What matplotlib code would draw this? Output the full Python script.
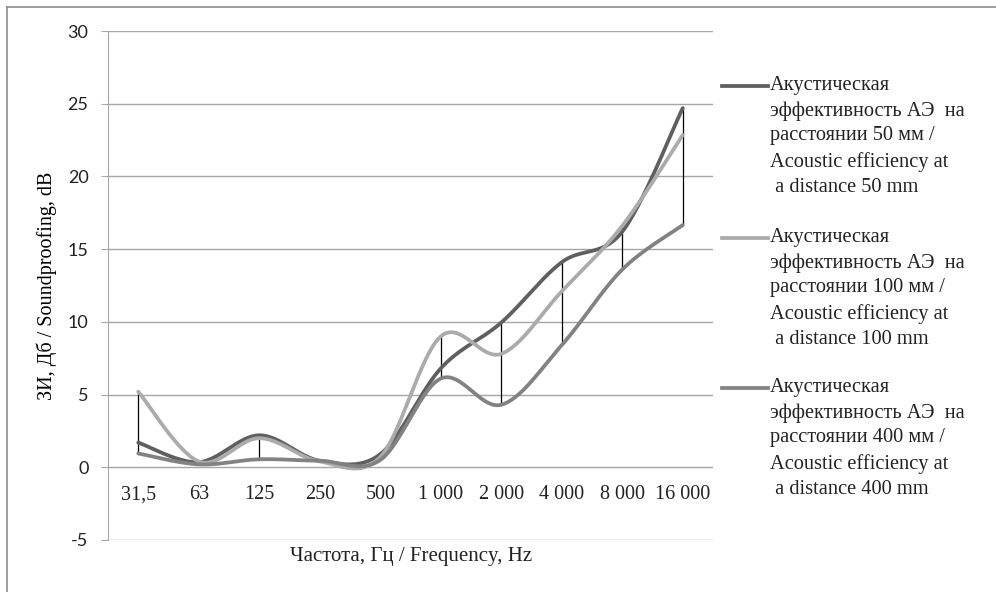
import numpy as np
import matplotlib
matplotlib.use('Agg')
from matplotlib import pyplot as plt
from matplotlib.lines import Line2D

plt.rcParams['axes.unicode_minus'] = False

categories = ['31,5', '63', '125', '250', '500', '1 000', '2 000', '4 000', '8 000', '16 000']

ae_50mm = [1.7, 0.35, 2.2, 0.45, 0.9, 6.8, 9.95, 14.1, 16.2, 24.7]
ae_100mm = [5.2, 0.4, 2.0, 0.4, 0.7, 9.0, 7.8, 12.1, 16.6, 22.85]
ae_400mm = [0.95, 0.2, 0.55, 0.45, 0.5, 6.1, 4.3, 8.4, 13.6, 16.65]

legend_labels = [
    'Акустическая\nэффективность АЭ  на\nрасстоянии 50 мм /\nAcoustic efficiency at\n a distance 50 mm',
    'Акустическая\nэффективность АЭ  на\nрасстоянии 100 мм /\nAcoustic efficiency at\n a distance 100 mm',
    'Акустическая\nэффективность АЭ  на\nрасстоянии 400 мм /\nAcoustic efficiency at\n a distance 400 mm',
]
colors = ['#5f5f5f', '#ababab', '#828282']

serif = 'Liberation Serif'
sans = 'Lato'


def smooth(y, n=30):
    # excel-like smoothed line (catmull-rom bezier)
    y = np.asarray(y, dtype=float)
    x = np.arange(len(y), dtype=float)
    p = np.column_stack([x, y])
    pts = []
    for i in range(len(p) - 1):
        p0 = p[max(i - 1, 0)]
        p1 = p[i]
        p2 = p[i + 1]
        p3 = p[min(i + 2, len(p) - 1)]
        c1 = p1 + (p2 - p0) / 6
        c2 = p2 - (p3 - p1) / 6
        t = np.linspace(0, 1, n)[:, None]
        seg = (1 - t) ** 3 * p1 + 3 * (1 - t) ** 2 * t * c1 + 3 * (1 - t) * t ** 2 * c2 + t ** 3 * p2
        pts.append(seg if i == 0 else seg[1:])
    pts = np.vstack(pts)
    return pts[:, 0], pts[:, 1]


fig = plt.figure(figsize=(9.96, 5.92), dpi=100)
ax = fig.add_axes([108 / 996, 1 - 540 / 592, 605 / 996, 509 / 592])

ax.set_xlim(-0.5, len(categories) - 0.5)
ax.set_ylim(-5, 30)
ax.set_yticks(range(-5, 31, 5))
ax.grid(axis='y', color='#a6a6a6', linewidth=1.0)
ax.set_axisbelow(True)

for s in ['top', 'right', 'bottom']:
    ax.spines[s].set_visible(False)
ax.spines['left'].set_color('#a6a6a6')
ax.tick_params(axis='y', length=5, color='#a6a6a6', pad=9, labelsize=13, labelcolor='#222222')
for lbl in ax.get_yticklabels():
    lbl.set_family(sans)
ax.set_xticks([])

# high-low lines
allv = np.array([ae_50mm, ae_100mm, ae_400mm])
ax.vlines(range(len(categories)), allv.min(axis=0), allv.max(axis=0), color='black', linewidth=0.9, zorder=2)

for vals, c in zip([ae_50mm, ae_100mm, ae_400mm], colors):
    xs, ys = smooth(vals)
    ax.plot(xs, ys, color=c, linewidth=2.7, solid_capstyle='round', zorder=3)

for i, cat in enumerate(categories):
    ax.annotate(cat, (i, 0), xytext=(0, -13), textcoords='offset points', ha='center', va='top',
                fontsize=14.5, family=serif, color='#222222')

ax.set_ylabel('ЗИ, Дб / Soundproofing, dB', family=serif, fontsize=14.5, labelpad=8)
fig.text(411 / 996, 1 - 557 / 592, 'Частота, Гц / Frequency, Hz', ha='center', va='center',
         family=serif, fontsize=15, color='#222222')

# legend on the right
tops = [86, 238, 388]
for lab, c, yt in zip(legend_labels, colors, tops):
    yf = 1 - yt / 592
    fig.add_artist(Line2D([722 / 996, 768 / 996], [yf, yf], color=c, linewidth=2.7, transform=fig.transFigure))
    fig.text(770 / 996, 1 - (yt - 10) / 592, lab, ha='left', va='top', family=serif, fontsize=14.7,
             linespacing=1.42, color='#222222')

# chart frame (top and left edge)
fig.add_artist(Line2D([7 / 996, 1.0], [1 - 7 / 592, 1 - 7 / 592], color='#8c8c8c', linewidth=1.2, transform=fig.transFigure))
fig.add_artist(Line2D([7 / 996, 7 / 996], [0, 1 - 7 / 592], color='#8c8c8c', linewidth=1.2, transform=fig.transFigure))

fig.savefig('out.png', dpi=100)
